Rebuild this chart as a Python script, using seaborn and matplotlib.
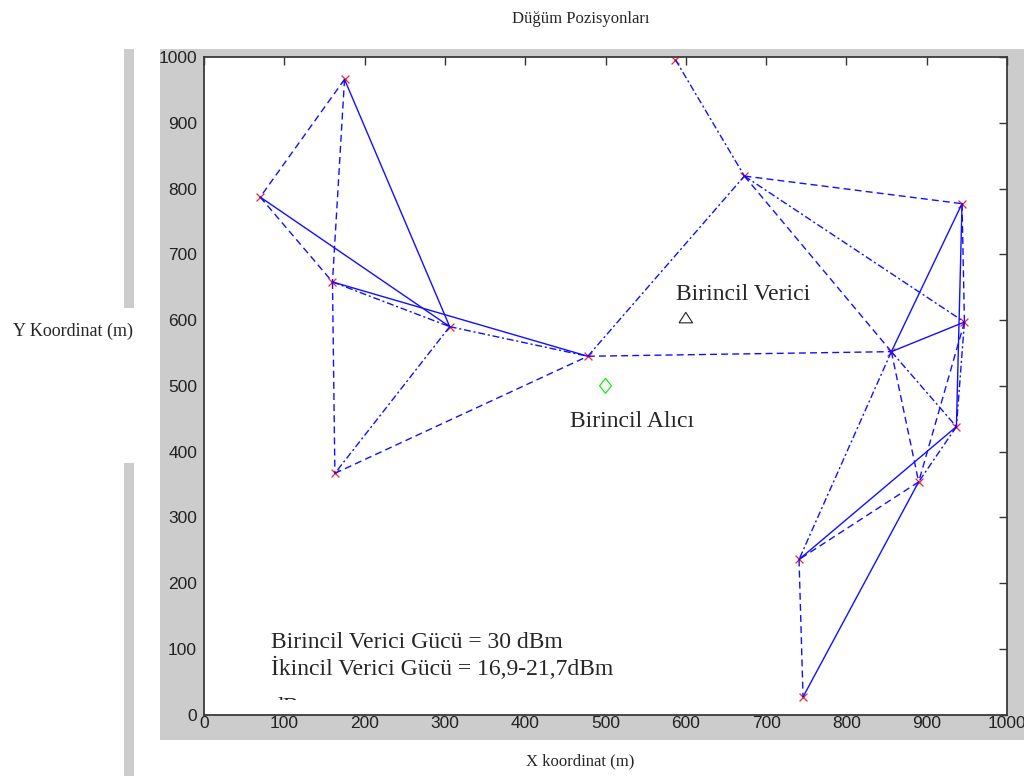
import numpy as np
import pandas as pd
import matplotlib
matplotlib.use("Agg")
import matplotlib.pyplot as plt
from matplotlib.patches import Rectangle
import seaborn as sns

# Düğüm konumları (m)
node_x = [175, 70, 160, 306, 163, 478, 587, 673, 944, 947, 856, 937, 890, 741, 746]
node_y = [966, 787, 658, 590, 367, 545, 996, 819, 777, 597, 552, 438, 354, 236, 27]

# Bağlantılar: başlangıç, bitiş, çizgi tipi
edge_from = [0, 0, 0, 1, 1, 2, 2, 2, 3, 3, 4, 5, 5, 6, 7, 7, 7, 8, 8, 8,
             10, 10, 10, 10, 9, 9, 11, 11, 12, 12, 13]
edge_to = [1, 2, 3, 2, 3, 3, 4, 5, 4, 5, 5, 7, 10, 7, 8, 9, 10, 10, 9, 11,
           9, 11, 12, 13, 11, 12, 12, 13, 13, 14, 14]
edge_style = ['dashed', 'dashed', 'solid', 'dashed', 'solid', 'dashdot', 'dashed', 'solid',
              'dashdot', 'dashdot', 'dashed', 'dashdot', 'dashed', 'dashdot', 'dashed', 'dashdot',
              'dashed', 'solid', 'dashed', 'solid', 'solid', 'dashdot', 'dashed', 'dashdot',
              'dashdot', 'dashed', 'dashdot', 'solid', 'dashed', 'solid', 'dashed']

# Birincil verici / alıcı
tx_x, tx_y = [600], [603]
rx_x, rx_y = [500], [500]

ticks = list(range(0, 1001, 100))

# kenar tablosu
rows = []
for i, (a, b, s) in enumerate(zip(edge_from, edge_to, edge_style)):
    rows.append({'edge': i, 'x': node_x[a], 'y': node_y[a], 'kind': s})
    rows.append({'edge': i, 'x': node_x[b], 'y': node_y[b], 'kind': s})
edges = pd.DataFrame(rows)

sns.set_style("white")
plt.rcParams['font.family'] = ['Liberation Sans', 'DejaVu Sans']

fig = plt.figure(figsize=(10.24, 7.76), dpi=100)
fig.patch.set_facecolor('white')

# gri çerçeve
fig.patches.append(Rectangle((160 / 1024, 1 - 740 / 776), 864 / 1024, 691 / 776,
                             transform=fig.transFigure, facecolor='#cccccc',
                             edgecolor='none', zorder=-10))
fig.patches.append(Rectangle((124 / 1024, 1 - 308 / 776), 10 / 1024, 259 / 776,
                             transform=fig.transFigure, facecolor='#cccccc',
                             edgecolor='none', zorder=-10))
fig.patches.append(Rectangle((124 / 1024, 0), 10 / 1024, 313 / 776,
                             transform=fig.transFigure, facecolor='#cccccc',
                             edgecolor='none', zorder=-10))

ax = fig.add_axes([204 / 1024, 1 - 714.7 / 776, 803 / 1024, 657.7 / 776])
ax.set_facecolor('white')

# düğümler
sns.scatterplot(x=node_x, y=node_y, marker='x', color='#ff2020', s=32,
                linewidth=0.9, ax=ax, zorder=1, legend=False)

# bağlantılar
sns.lineplot(data=edges, x='x', y='y', units='edge', style='kind',
             estimator=None, sort=False, color='#1010ff', linewidth=1.0,
             dashes={'solid': '', 'dashed': (5, 3), 'dashdot': (5, 2, 1.5, 2)},
             ax=ax, legend=False, zorder=2)

tri = [(-1, -0.7), (1, -0.7), (0, 0.85), (-1, -0.7)]
dia = [(0, 1), (0.8, 0), (0, -1), (-0.8, 0), (0, 1)]
sns.scatterplot(x=tx_x, y=tx_y, marker=tri, s=95, facecolor='none',
                edgecolor='#222222', linewidth=0.8, ax=ax, zorder=3, legend=False)
sns.scatterplot(x=rx_x, y=rx_y, marker=dia, s=115, facecolor='none',
                edgecolor='#00ee00', linewidth=0.8, ax=ax, zorder=3, legend=False)

serif = ['Liberation Serif', 'DejaVu Serif']
ax.text(588, 631, 'Birincil Verici', fontsize=17, family=serif, va='baseline')
ax.text(456, 438, 'Birincil Alıcı', fontsize=17, family=serif, va='baseline')
ax.text(84, 60, 'Birincil Verici Gücü = 30 dBm\nİkincil Verici Gücü = 16,9-21,7dBm',
        fontsize=17, family=serif, va='baseline', linespacing=1.2)
ax.text(84, 3, 'dB', fontsize=17, family=serif, va='baseline')
ax.add_patch(Rectangle((70, 1.5), 60, 20.5, facecolor='white', edgecolor='none', zorder=5))

ax.set_xlim(0, 1000)
ax.set_ylim(0, 1000)
ax.set_xticks(ticks)
ax.set_yticks(ticks)
ax.set_xlabel('')
ax.set_ylabel('')
ax.tick_params(direction='in', length=6, width=1, color='#333333', labelsize=12.5,
               labelcolor='#222222', top=True, right=True, labeltop=False, labelright=False)
ax.tick_params(axis='x', pad=1)
ax.tick_params(axis='y', pad=5)
for sp in ax.spines.values():
    sp.set_visible(True)
    sp.set_color('#3a3a3a')
    sp.set_linewidth(1.3)

fig.text(581 / 1024, 1 - 19 / 776, 'Düğüm Pozisyonları', fontsize=12, family=serif,
         ha='center', va='center')
fig.text(580 / 1024, 1 - 761 / 776, 'X koordinat (m)', fontsize=12, family=serif,
         ha='center', va='center')
fig.text(73 / 1024, 1 - 331 / 776, 'Y Koordinat (m)', fontsize=13, family=serif,
         ha='center', va='center')

fig.savefig('out.png', dpi=100, facecolor='white')
